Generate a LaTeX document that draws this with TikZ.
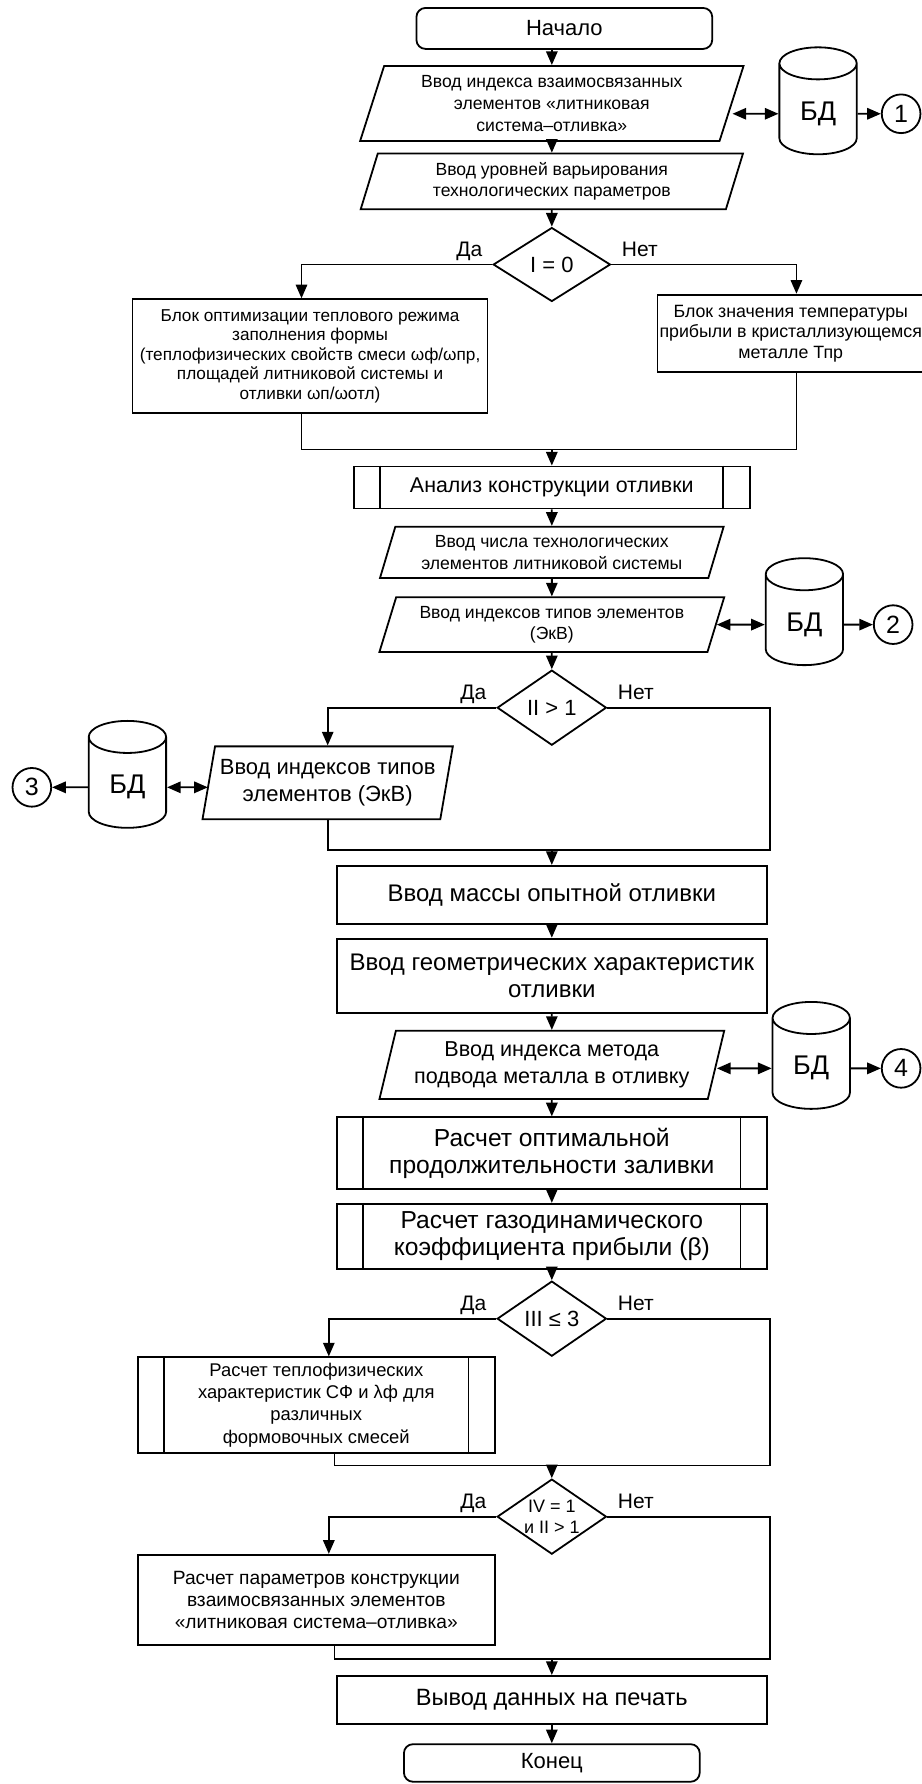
\documentclass[tikz,border=0pt]{standalone}
\usepackage{fontspec}
\setmainfont{Liberation Sans}
\usetikzlibrary{shapes.geometric, arrows.meta}

\newcommand{\fsz}[2]{\fontsize{#1}{#2}\selectfont}

\begin{document}
\begin{tikzpicture}[node distance=1.4cm, auto,
    line width=0.9pt, >={Triangle[length=0.24cm, width=0.2cm]},
    term/.style={draw, rectangle, rounded corners=0.16cm, minimum width=5.2cm, minimum height=0.72cm, font=\fsz{11}{13}},
    io/.style={draw, trapezium, trapezium left angle=68, trapezium right angle=112, trapezium stretches body, align=center, inner sep=1pt, font=\fsz{8.8}{10.8}},
    block/.style={draw, rectangle, align=center, inner sep=1pt},
    subproc/.style={draw, rectangle, align=center, inner sep=1pt, minimum width=7.56cm},
    decision/.style={draw, diamond, aspect=1.5, align=center, inner sep=0pt, font=\fsz{11}{13}},
    db/.style={draw, cylinder, shape border rotate=90, aspect=0.65, minimum width=1.36cm, minimum height=1.88cm, font=\fsz{13.5}{15}},
    conn/.style={draw, circle, minimum size=0.68cm, inner sep=0pt, font=\fsz{12.5}{14}},
    lbl/.style={inner sep=0pt, font=\fsz{10.5}{12}}]

    \useasboundingbox (0,0) rectangle (16.2,-31.36);

    % Nodes
    \node (start) [term] at (9.92,-0.5) {Начало};
    \node (in1) [io, below of=start, node distance=1.32cm, xshift=-0.22cm, minimum width=6.74cm, minimum height=1.32cm] {Ввод индекса взаимосвязанных\\элементов «литниковая\\система–отливка»};
    \node (in2) [io, below of=in1, node distance=1.37cm, minimum width=6.72cm, minimum height=0.98cm] {Ввод уровней варьирования\\технологических параметров};
    \node (dec1) [decision, below of=in2, node distance=1.46cm, minimum width=2.06cm, minimum height=1.3cm] {I = 0};
    \node (optheat) [block, below of=dec1, node distance=1.61cm, xshift=-4.25cm, minimum width=6.24cm, minimum height=2cm, font=\fsz{8.6}{9.8}] {Блок оптимизации теплового режима\\заполнения формы\\(теплофизических свойств смеси ωф/ωпр,\\площадей литниковой системы и\\отливки ωп/ωотл)};
    \node (tpr) [block, below of=dec1, node distance=1.21cm, xshift=4.2cm, minimum width=4.56cm, minimum height=1.36cm, font=\fsz{8.9}{10.2}] {Блок значения температуры\\прибыли в кристаллизующемся\\металле Тпр};
    \node (analysis) [subproc, below of=dec1, node distance=3.92cm, minimum width=6.96cm, minimum height=0.74cm, font=\fsz{10.7}{12.5}] {Анализ конструкции отливки};
    \node (in3) [io, below of=analysis, node distance=1.14cm, minimum width=6.04cm, minimum height=0.9cm] {Ввод числа технологических\\элементов литниковой системы};
    \node (in4) [io, below of=in3, node distance=1.27cm, minimum width=6.06cm, minimum height=0.96cm] {Ввод индексов типов элементов\\(ЭкВ)};
    \node (dec2) [decision, below of=in4, node distance=1.46cm, minimum width=1.92cm, minimum height=1.32cm] {II > 1};
    \node (in5) [io, below of=dec2, node distance=1.32cm, xshift=-3.94cm, trapezium left angle=76, trapezium right angle=104, minimum width=4.4cm, minimum height=1.28cm, font=\fsz{11}{13.3}] {Ввод индексов типов\\элементов (ЭкВ)};
    \node (mass) [block, below of=dec2, node distance=3.29cm, minimum width=7.56cm, minimum height=1.02cm, font=\fsz{12}{13.6}] {Ввод массы опытной отливки};
    \node (geom) [block, below of=mass, node distance=1.42cm, minimum width=7.56cm, minimum height=1.3cm, font=\fsz{12}{13.6}] {Ввод геометрических характеристик\\отливки};
    \node (in6) [io, below of=geom, node distance=1.57cm, trapezium left angle=72, trapezium right angle=108, minimum width=6.06cm, minimum height=1.2cm, font=\fsz{10.8}{13.6}] {Ввод индекса метода\\подвода металла в отливку};
    \node (opt) [subproc, below of=in6, node distance=1.55cm, minimum height=1.26cm, font=\fsz{12.3}{13.4}] {Расчет оптимальной\\продолжительности заливки};
    \node (gas) [subproc, below of=opt, node distance=1.46cm, minimum height=1.14cm, font=\fsz{12.3}{13.4}] {Расчет газодинамического\\коэффициента прибыли (β)};
    \node (dec3) [decision, below of=gas, node distance=1.45cm, minimum width=1.92cm, minimum height=1.32cm] {III ≤ 3};
    \node (heat) [subproc, below of=dec3, node distance=1.52cm, xshift=-4.14cm, minimum width=6.28cm, minimum height=1.68cm, font=\fsz{9.2}{11.1}] {Расчет теплофизических\\характеристик СФ и λф для\\различных\\формовочных смесей};
    \node (dec4) [decision, below of=dec3, node distance=3.48cm, minimum width=1.92cm, minimum height=1.32cm, font=\fsz{9}{10.5}] {IV = 1\\и II > 1};
    \node (constr) [block, below of=dec4, node distance=1.46cm, xshift=-4.14cm, minimum width=6.28cm, minimum height=1.58cm, font=\fsz{9.6}{11}] {Расчет параметров конструкции\\взаимосвязанных элементов\\«литниковая система–отливка»};
    \node (out) [block, below of=dec4, node distance=3.22cm, minimum width=7.56cm, minimum height=0.84cm, font=\fsz{11.8}{13.5}] {Вывод данных на печать};
    \node (end) [term, below of=out, node distance=1.11cm, minimum height=0.66cm] {Конец};

    % Databases and connectors
    \node (db1) [db, right of=in1, node distance=4.68cm, yshift=-0.18cm] {БД};
    \node (c1) [conn, right of=db1, node distance=1.46cm] {1};
    \node (db2) [db, right of=in4, node distance=4.44cm] {БД};
    \node (c2) [conn, right of=db2, node distance=1.56cm] {2};
    \node (db3) [db, left of=in5, node distance=3.52cm, yshift=-0.08cm] {БД};
    \node (c3) [conn, left of=db3, node distance=1.68cm] {3};
    \node (db4) [db, right of=in6, node distance=4.56cm, yshift=-0.06cm] {БД};
    \node (c4) [conn, right of=db4, node distance=1.58cm] {4};

    % Merge points
    \node (m1) [coordinate, above of=analysis, node distance=0.67cm] {};
    \node (m2) [coordinate, above of=mass, node distance=0.79cm] {};
    \node (r2) [coordinate, right of=m2, node distance=3.84cm] {};
    \node (m3) [coordinate, above of=dec4, node distance=0.9cm] {};
    \node (r3) [coordinate, right of=m3, node distance=3.84cm] {};
    \node (m4) [coordinate, above of=out, node distance=0.72cm] {};
    \node (r4) [coordinate, right of=m4, node distance=3.84cm] {};

    % Side bars of the subprocess blocks
    \foreach \n in {analysis, opt, gas, heat}
        \draw ([xshift=0.48cm]\n.north west) -- ([xshift=0.48cm]\n.south west)
              ([xshift=-0.48cm]\n.north east) -- ([xshift=-0.48cm]\n.south east);

    % Labels
    \node (yes1) [lbl, anchor=base east] at ([xshift=-0.16cm, yshift=0.14cm]dec1.west) {Да};
    \node (no1) [lbl, anchor=base west] at ([xshift=0.17cm, yshift=0.14cm]dec1.east) {Нет};
    \node (yes2) [lbl, anchor=base east] at ([xshift=-0.16cm, yshift=0.14cm]dec2.west) {Да};
    \node (no2) [lbl, anchor=base west] at ([xshift=0.17cm, yshift=0.14cm]dec2.east) {Нет};
    \node (yes3) [lbl, anchor=base east] at ([xshift=-0.16cm, yshift=0.14cm]dec3.west) {Да};
    \node (no3) [lbl, anchor=base west] at ([xshift=0.17cm, yshift=0.14cm]dec3.east) {Нет};
    \node (yes4) [lbl, anchor=base east] at ([xshift=-0.16cm, yshift=0.14cm]dec4.west) {Да};
    \node (no4) [lbl, anchor=base west] at ([xshift=0.17cm, yshift=0.14cm]dec4.east) {Нет};

    % Arrows
    \draw[->] (start.south -| in1.north) -- (in1.north);
    \draw[->] (in1) -- (in2);
    \draw[->] (in2) -- (dec1);
    \draw[<->] (in1.east |- db1) -- (db1);
    \draw[->] (db1) -- (c1);
    \draw[->] (dec1.west) -| ([xshift=-0.15cm]optheat.north);
    \draw[->] (dec1.east) -| ([xshift=0.1cm]tpr.north);
    \draw ([xshift=-0.15cm]optheat.south) |- (m1);
    \draw ([xshift=0.1cm]tpr.south) |- (m1);
    \draw[->] (m1) -- (analysis);
    \draw[->] (analysis) -- (in3);
    \draw[->] (in3) -- (in4);
    \draw[<->] (in4.east |- db2) -- (db2);
    \draw[->] (db2) -- (c2);
    \draw[->] (in4) -- (dec2);
    \draw[->] (dec2.west) -| (in5.north);
    \draw[<->] (in5.west |- db3) -- (db3);
    \draw[->] (db3) -- (c3);
    \draw (dec2.east) -| (r2) -- (m2);
    \draw (in5.south) |- (m2);
    \draw[->] (m2) -- (mass);
    \draw[->] (mass) -- (geom);
    \draw[->] (geom) -- (in6);
    \draw[<->] (in6.east |- db4) -- (db4);
    \draw[->] (db4) -- (c4);
    \draw[->] (in6) -- (opt);
    \draw[->] (opt) -- (gas);
    \draw[->] (gas) -- (dec3);
    \draw[->] (dec3.west) -| ([xshift=0.22cm]heat.north);
    \draw (dec3.east) -| (r3) -- (m3);
    \draw ([xshift=0.32cm]heat.south) |- (m3);
    \draw[->] (m3) -- (dec4);
    \draw[->] (dec4.west) -| ([xshift=0.22cm]constr.north);
    \draw (dec4.east) -| (r4) -- (m4);
    \draw ([xshift=0.32cm]constr.south) |- (m4);
    \draw[->] (m4) -- (out);
    \draw[->] (out) -- (end);
\end{tikzpicture}
\end{document}
